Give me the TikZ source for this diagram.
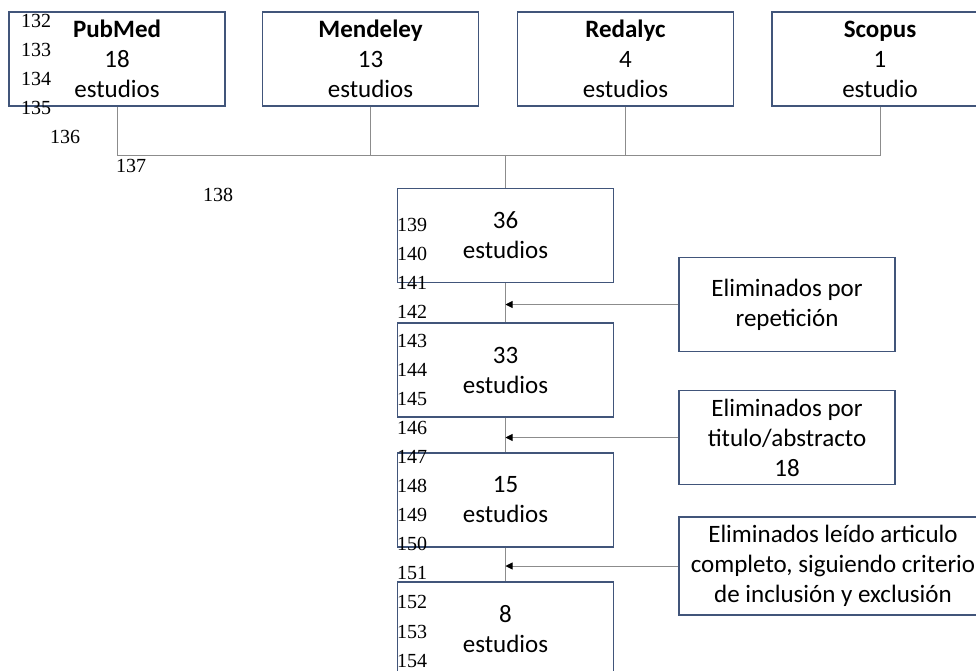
\documentclass[tikz,border=0pt]{standalone}
\usepackage{fontspec}
\setmainfont{Carlito}
\newfontfamily\linenofont{Liberation Serif}
\usetikzlibrary{arrows.meta, positioning, calc}
\definecolor{boxS}{HTML}{41557A}
\definecolor{lineG}{HTML}{8C8C8C}
\tikzset{
  box/.style={draw=boxS, line width=1.2pt, fill=white,
    minimum width=216pt, minimum height=94pt, align=center,
    inner sep=0pt, font=\fontsize{25}{30}\selectfont},
  link/.style={draw=lineG, line width=0.9pt},
  flow/.style={link, -{Triangle[length=7pt, width=7pt, color=black]}},
  lineno/.style={anchor=west, inner sep=0pt,
    font=\linenofont\fontsize{20}{20}\selectfont},
}

\begin{document}
\begin{tikzpicture}[x=1pt, y=-1pt]
  \useasboundingbox (0,0) rectangle (976,671);
  \clip (0,0) rectangle (976,671);

  % ---- Databases ---------------------------------------------------------
  \node[box] (pubmed)   at (117,59)   {\textbf{PubMed}\\18\\estudios};
  \node[box] (mendeley) at (370.5,59) {\textbf{Mendeley}\\13\\estudios};
  \node[box] (redalyc)  at (625.5,59) {\textbf{Redalyc}\\4\\estudios};
  \node[box] (scopus)   at (880,59)   {\textbf{Scopus}\\1\\estudio};

  % ---- Studies kept after each step --------------------------------------
  \node[box] (n36) at (505.5,235.5) {36\\estudios};
  \node[box] (n33) at (505.5,370)   {33\\estudios};
  \node[box] (n15) at (505.5,500)   {15\\estudios};
  \node[box] (n8)  at (505.5,629)   {8\\estudios};

  % ---- Exclusions --------------------------------------------------------
  \node[box] (rep) at (787,304.5) {Eliminados por\\repetición};
  \node[box] (tit) at (787,437.5) {Eliminados por\\titulo/abstracto\\18};
  \node[box, minimum width=308pt, minimum height=98pt] (full) at (833,566)
        {Eliminados leído articulo\\completo, siguiendo criterio\\de inclusión y exclusión};

  % ---- Connectors --------------------------------------------------------
  \coordinate (bus) at (505.5,155);
  \draw[link] (pubmed.south) |- (bus);
  \draw[link] (scopus.south) |- (bus);
  \draw[link] (mendeley.south) -- (mendeley.south |- bus);
  \draw[link] (redalyc.south) -- (redalyc.south |- bus);
  \draw[link] (bus) -- (n36.north);

  \draw[link] (n36) -- (n33);
  \draw[link] (n33) -- (n15);
  \draw[link] (n15) -- (n8);

  \draw[flow] (rep.west)  -- (rep.west -| n36.south);
  \draw[flow] (tit.west)  -- (tit.west -| n33.south);
  \draw[flow] (full.west) -- (full.west -| n15.south);

  % ---- Line numbers ------------------------------------------------------
  \foreach \n/\x in {132/21,133/21,134/21,135/21,136/50,137/116,138/203,
                     139/397,140/397,141/397,142/397,143/397,144/397,145/397,146/397,
                     147/397,148/397,149/397,150/397,151/397,152/397,153/397,154/397}
    \node[lineno] (ln\n) at (\x,{21+29.07*(\n-132)}) {\n};

\end{tikzpicture}
\end{document}
